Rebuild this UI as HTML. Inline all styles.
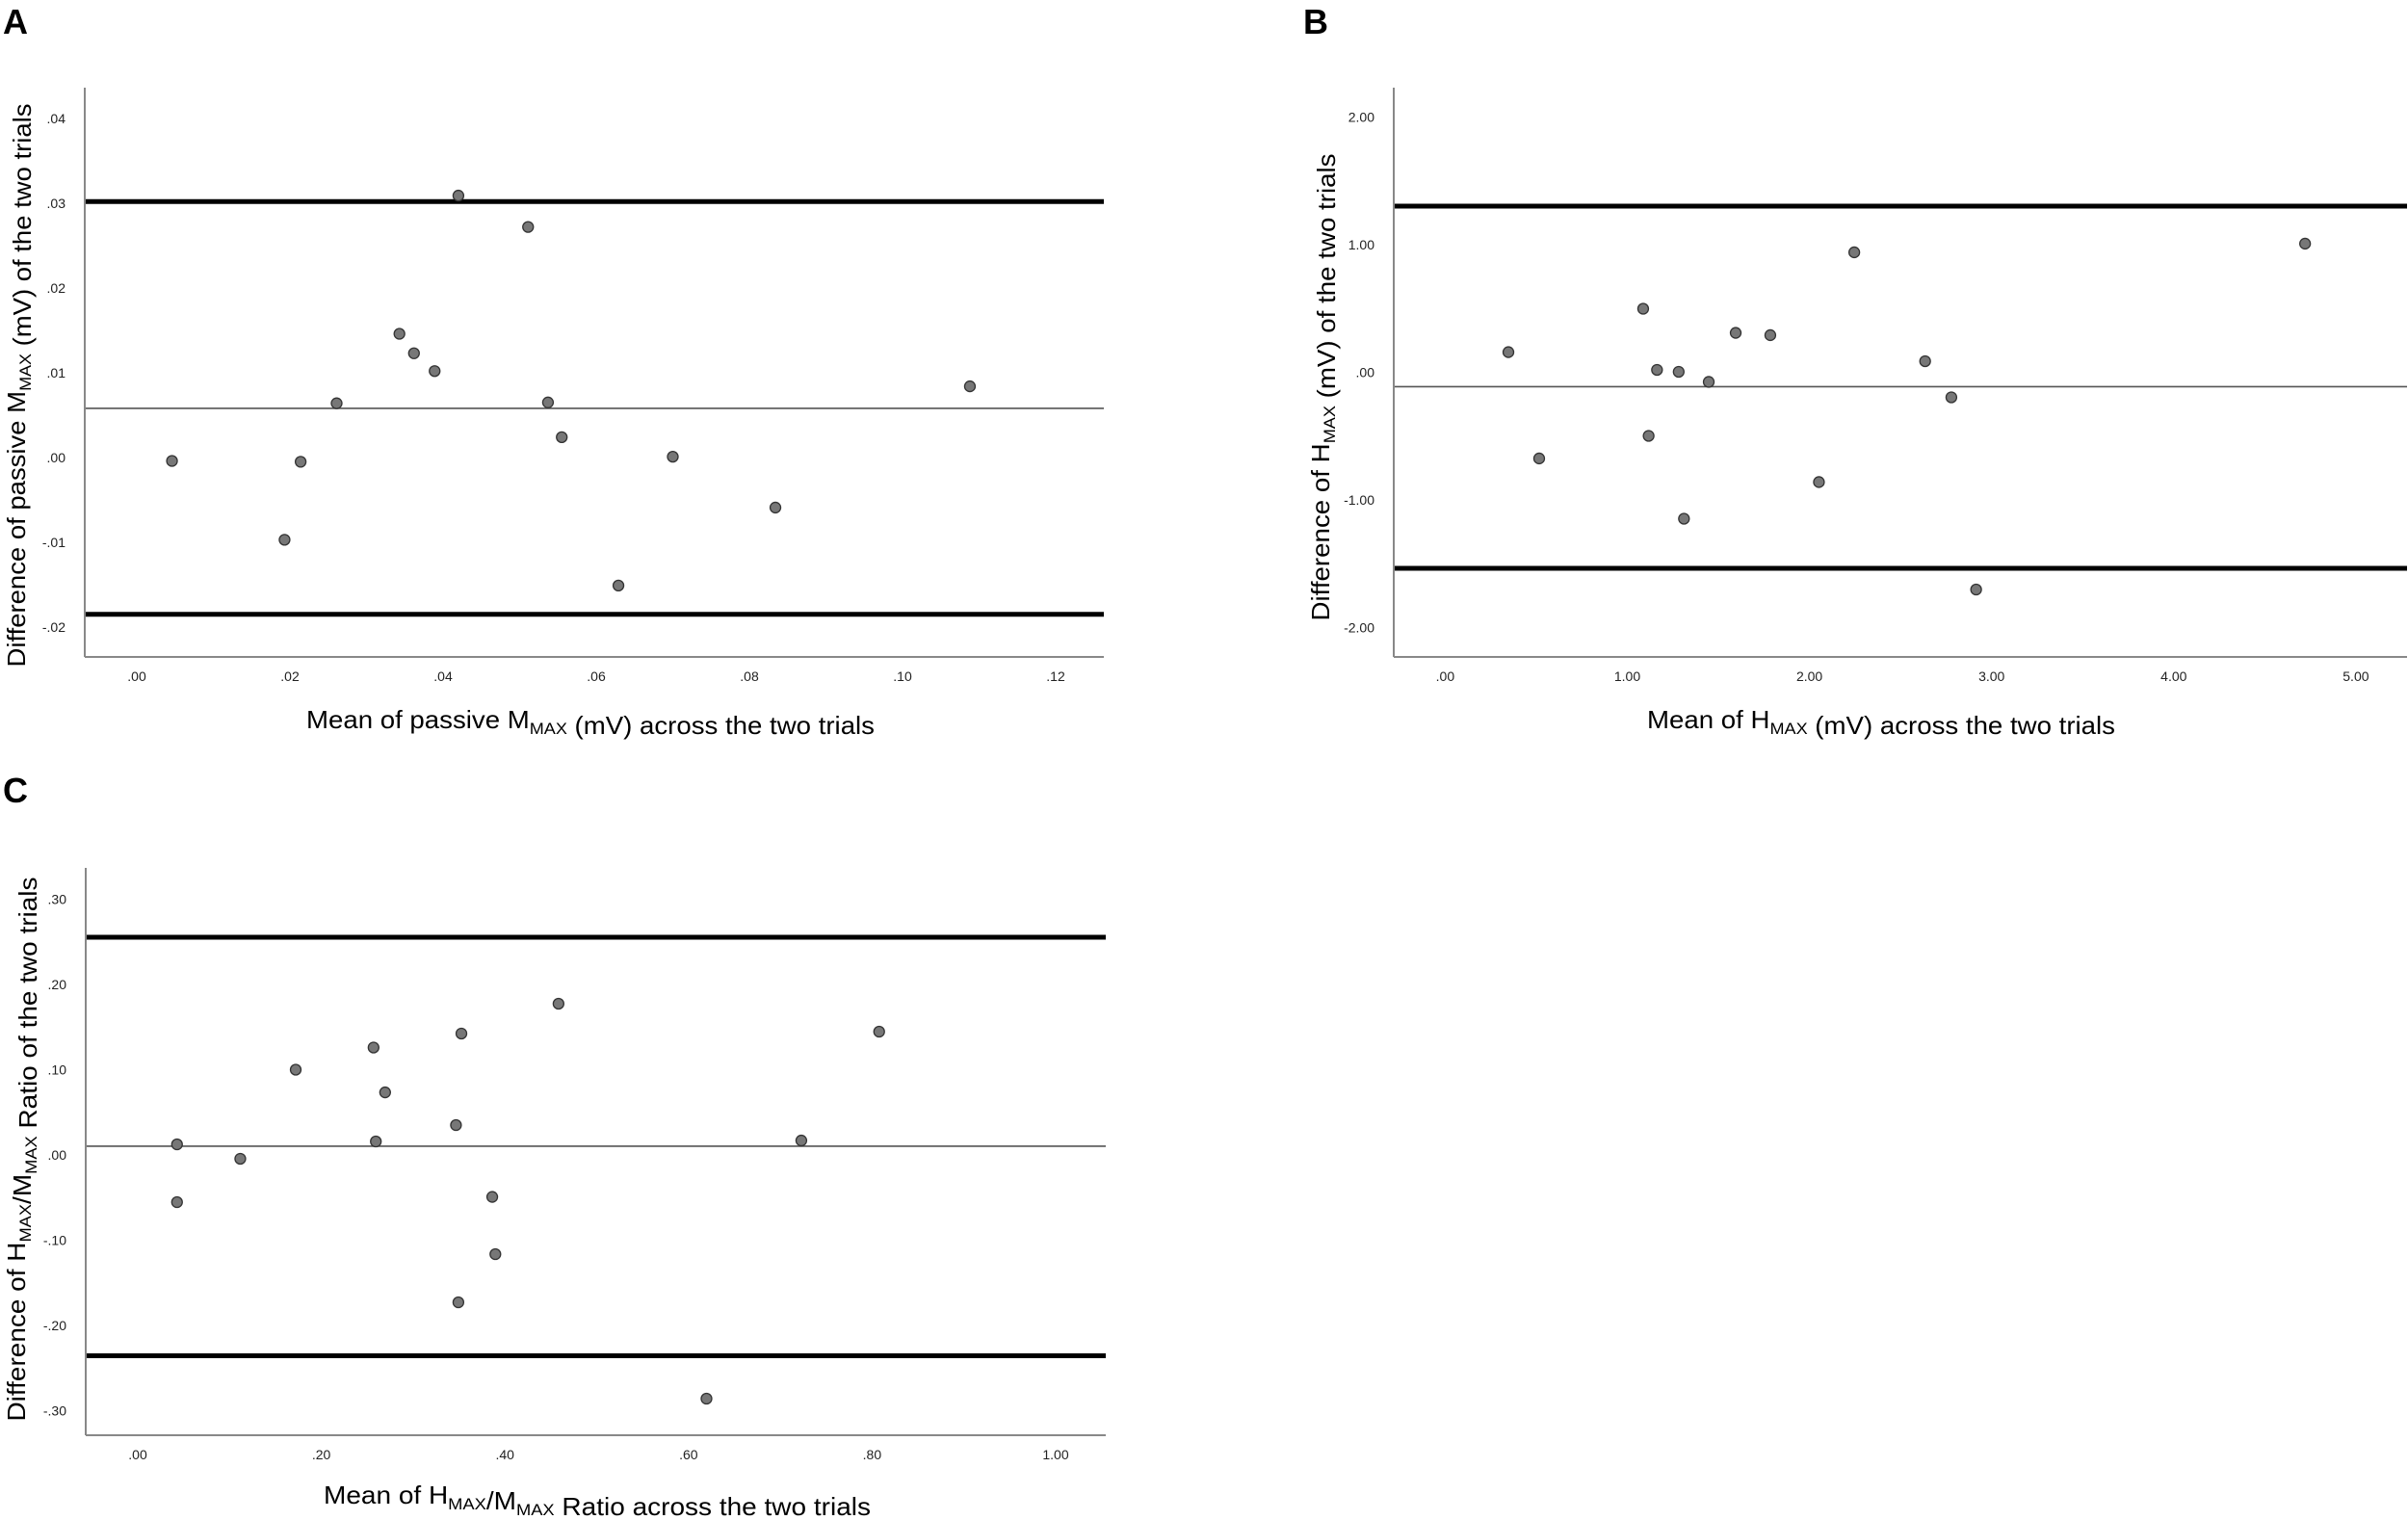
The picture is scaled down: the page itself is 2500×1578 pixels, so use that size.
<!DOCTYPE html>
<html><head><meta charset="utf-8"><style>
html,body{margin:0;padding:0;background:#fff;}
svg{display:block;}
text{font-family:"Liberation Sans",sans-serif;fill:#000;}
.tick{font-size:14px;fill:#222;}
.title{font-size:26px;}
.lab{font-size:36px;font-weight:bold;}
</style></head><body>
<svg id="fig" width="2500" height="1578" viewBox="0 0 2500 1578" xmlns="http://www.w3.org/2000/svg"></svg>
<script>
// Panel A data
const aMeanX = [0.0046,0.0214,0.0193,0.0261,0.0343,0.0362,0.0389,0.0420,0.0511,0.0537,0.0555,0.0629,0.0700,0.0834,0.1088];
const aDiffY = [-0.0004,-0.0005,-0.0097,0.0064,0.0146,0.0123,0.0102,0.0309,0.0272,0.0065,0.0024,-0.0151,0.0001,-0.0059,0.0084];
const aLines = [0.0302,0.0058,-0.0185];
const aXTicks = [0,0.02,0.04,0.06,0.08,0.10,0.12];
const aXTickLabels = [".00",".02",".04",".06",".08",".10",".12"];
const aYTicks = [0.04,0.03,0.02,0.01,0,-0.01,-0.02];
const aYTickLabels = [".04",".03",".02",".01",".00","-.01","-.02"];
// Panel B data
const bMeanX = [0.347,0.516,1.087,1.117,1.163,1.282,1.311,1.447,1.595,1.785,2.052,2.246,2.635,2.779,2.915,4.721];
const bDiffY = [0.158,-0.675,0.498,-0.498,0.019,0.004,-1.147,-0.075,0.309,0.291,-0.860,0.940,0.087,-0.196,-1.702,1.008];
const bLines = [1.302,-0.113,-1.536];
const bXTicks = [0,1,2,3,4,5];
const bXTickLabels = [".00","1.00","2.00","3.00","4.00","5.00"];
const bYTicks = [2,1,0,-1,-2];
const bYTickLabels = ["2.00","1.00",".00","-1.00","-2.00"];
// Panel C data
const cMeanX = [0.0428,0.0428,0.1117,0.1721,0.2569,0.2594,0.2695,0.3467,0.3493,0.3526,0.3862,0.3896,0.4584,0.6196,0.7229,0.8077];
const cDiffY = [0.0124,-0.0554,-0.0045,0.1000,0.1260,0.0158,0.0734,0.0350,-0.1729,0.1424,-0.0492,-0.1164,0.1774,-0.2859,0.0169,0.1446];
const cLines = [0.2554,0.0102,-0.2356];
const cXTicks = [0,0.2,0.4,0.6,0.8,1.0];
const cXTickLabels = [".00",".20",".40",".60",".80","1.00"];
const cYTicks = [0.3,0.2,0.1,0,-0.1,-0.2,-0.3];
const cYTickLabels = [".30",".20",".10",".00","-.10","-.20","-.30"];

const NS="http://www.w3.org/2000/svg";
const svg=document.getElementById('fig');
function mk(tag,parent,attrs){const e=document.createElementNS(NS,tag);for(const k in attrs)e.setAttribute(k,attrs[k]);parent.appendChild(e);return e;}

function panel(cfg){
  const g=mk('g',svg,{});
  
  
  const sx=v=>cfg.x0+(v-cfg.xv0)*cfg.xpx;
  const sy=v=>cfg.y0-(v-cfg.yv0)*cfg.ypx;
  const lab=mk('text',g,{x:cfg.labX,y:cfg.labY,class:'lab'});lab.textContent=cfg.letter;
  
  
  cfg.lines.forEach((v,i)=>{
    const l=mk('line',g,{x1:cfg.ax,x2:cfg.right,y1:sy(v),y2:sy(v),stroke:i==1?'#555':'#000','stroke-width':i==1?1.6:5});
    
    
  });
  const ya=mk('line',g,{x1:cfg.ax,x2:cfg.ax,y1:cfg.top,y2:cfg.bottom,stroke:'#888','stroke-width':2});
  
  
  const xa=mk('line',g,{x1:cfg.ax,x2:cfg.right,y1:cfg.bottom,y2:cfg.bottom,stroke:'#888','stroke-width':2});
  
  
  cfg.xt.forEach((v,i)=>{
    const t=mk('text',g,{x:sx(v),y:cfg.bottom+25,class:'tick','text-anchor':'middle'});t.textContent=cfg.xtl[i];
    
    
  });
  cfg.yt.forEach((v,i)=>{
    const t=mk('text',g,{x:cfg.ax-20,y:sy(v)+5,class:'tick','text-anchor':'end'});t.textContent=cfg.ytl[i];
    
    
  });
  cfg.mx.forEach((v,i)=>{
    const c=mk('circle',g,{cx:sx(v),cy:sy(cfg.dy[i]),r:5.5,fill:'#777',stroke:'#333','stroke-width':1.3});
    
    
  });
  const xt=mk('text',g,{x:cfg.xtX,y:cfg.xtY,class:'title','text-anchor':'middle',textLength:cfg.xtLen,lengthAdjust:'spacingAndGlyphs'});
  xt.innerHTML=cfg.xTitle;
  
  
  const yt=mk('text',g,{x:0,y:0,class:'title','text-anchor':'middle',textLength:cfg.ytLen,lengthAdjust:'spacingAndGlyphs',transform:`translate(${cfg.ytX},${cfg.ytY}) rotate(-90)`});
  yt.innerHTML=cfg.yTitle;
  
  
}
const sub=s=>`<tspan font-size="17" dy="6">${s}</tspan><tspan dy="-6"></tspan>`;
panel({name:'panel-a',letter:'A',labX:3,labY:35,ax:88,right:1146,top:91,bottom:682,
  x0:142,xv0:0,xpx:159/0.02,y0:475,yv0:0,ypx:88/0.01,
  lines:aLines,xt:aXTicks,xtl:aXTickLabels,yt:aYTicks,ytl:aYTickLabels,mx:aMeanX,dy:aDiffY,
  xTitle:'Mean of passive M'+sub('MAX')+' (mV) across the two trials',xtX:613,xtY:756,xtLen:590,
  yTitle:'Difference of passive M'+sub('MAX')+' (mV) of the two trials',ytX:26,ytY:400,ytLen:585});
panel({name:'panel-b',letter:'B',labX:1353,labY:35,ax:1447,right:2499,top:91,bottom:682,
  x0:1500.4,xv0:0,xpx:189.1,y0:386.5,yv0:0,ypx:132.5,
  lines:bLines,xt:bXTicks,xtl:bXTickLabels,yt:bYTicks,ytl:bYTickLabels,mx:bMeanX,dy:bDiffY,
  xTitle:'Mean of H'+sub('MAX')+' (mV) across the two trials',xtX:1953,xtY:756,xtLen:486,
  yTitle:'Difference of H'+sub('MAX')+' (mV) of the two trials',ytX:1380,ytY:402,ytLen:485});
panel({name:'panel-c',letter:'C',labX:3,labY:833,ax:89,right:1148,top:901,bottom:1490,
  x0:143,xv0:0,xpx:190.6/0.2,y0:1199,yv0:0,ypx:88.5/0.1,
  lines:cLines,xt:cXTicks,xtl:cXTickLabels,yt:cYTicks,ytl:cYTickLabels,mx:cMeanX,dy:cDiffY,
  xTitle:'Mean of H'+sub('MAX')+'/M'+sub('MAX')+' Ratio across the two trials',xtX:620,xtY:1561,xtLen:568,
  yTitle:'Difference of H'+sub('MAX')+'/M'+sub('MAX')+' Ratio of the two trials',ytX:26,ytY:1193,ytLen:565});
</script>
</body></html>
